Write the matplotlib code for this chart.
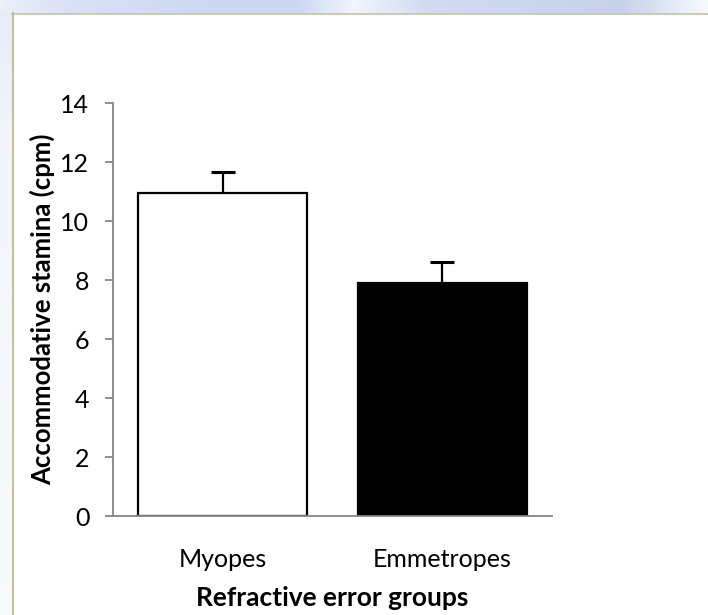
import matplotlib
matplotlib.use("Agg")
import matplotlib.pyplot as plt
import numpy as np
from matplotlib.patches import Rectangle

categories = ["Myopes", "Emmetropes"]
means = [10.95, 7.92]
errors = [0.72, 0.71]
fill_colors = ["white", "black"]
yticks = [0, 2, 4, 6, 8, 10, 12, 14]

plt.rcParams['font.family'] = ['Lato', 'DejaVu Sans']

W, H = 708, 615
fig = plt.figure(figsize=(W / 100, H / 100), dpi=100)

# background decoration (slide-like frame)
bg = fig.add_axes([0, 0, 1, 1], zorder=-10)
bg.set_axis_off()
grad = np.linspace(0, 1, 300)
stops = [0, 0.1, 0.3, 0.42, 0.5, 0.6, 0.75, 0.88, 0.96, 1]
top_r = np.interp(grad, stops, [0.92, 0.85, 0.80, 0.80, 0.95, 0.82, 0.80, 0.78, 0.90, 0.97])
top_g = np.interp(grad, stops, [0.94, 0.88, 0.85, 0.85, 0.96, 0.86, 0.84, 0.82, 0.93, 0.98])
top_b = np.interp(grad, stops, [0.98, 0.96, 0.95, 0.95, 0.99, 0.95, 0.94, 0.92, 0.97, 0.99])
img = np.stack([top_r, top_g, top_b], axis=-1)[None, :, :]
bg.imshow(img, extent=[0, W, 13, 0], aspect='auto')
left = np.linspace(0, 1, 200)
lr = np.interp(left, [0, 0.2, 1], [0.90, 0.95, 0.97])
lg = np.interp(left, [0, 0.2, 1], [0.93, 0.96, 0.98])
lb = np.interp(left, [0, 0.2, 1], [0.98, 0.98, 0.99])
limg = np.stack([lr, lg, lb], axis=-1)[:, None, :]
bg.imshow(limg, extent=[0, 12, H, 13], aspect='auto')
bg.add_patch(Rectangle((12, 13), W - 12, H - 13, facecolor='white', edgecolor='none'))
bg.plot([12, W], [13.5, 13.5], color='#c8bf9f', lw=1.2)
bg.plot([12.5, 12.5], [13, H], color='#c8bf9f', lw=1.5)
bg.set_xlim(0, W)
bg.set_ylim(H, 0)

ax = fig.add_axes([113 / W, 99 / H, 439 / W, 412.7 / H])
ax.set_facecolor('none')
x = np.arange(len(categories))
ax.bar(x, means, width=0.77, color=fill_colors, edgecolor='black', linewidth=1.6, zorder=2)
eb = ax.errorbar(x, means, yerr=[np.zeros(len(errors)), errors], fmt='none', ecolor='black',
                 elinewidth=1.6, capsize=8.5, capthick=2.2, zorder=3)
# show only the upper caps
eb.lines[1][0].set_visible(False)

ax.set_xlim(-0.5, 1.5)
ax.set_ylim(0, 14)
ax.set_yticks(yticks)
ax.set_yticklabels([str(v) for v in yticks])
ax.set_xticks(x)
ax.set_xticklabels(categories)

for s in ['top', 'right']:
    ax.spines[s].set_visible(False)
for s in ['left', 'bottom']:
    ax.spines[s].set_color('#868686')
    ax.spines[s].set_linewidth(1.3)

ax.tick_params(axis='y', direction='out', length=6, width=1.3, color='#868686',
               labelsize=18, pad=11, labelcolor='black')
ax.tick_params(axis='x', length=0, labelsize=18, pad=23, labelcolor='black')

ax.set_ylabel("Accommodative stamina (cpm)", fontsize=18.5, fontweight='bold')
ax.yaxis.set_label_coords(-0.132, 0.5)
ax.set_xlabel("Refractive error groups", fontsize=19, fontweight='bold')
ax.xaxis.set_label_coords(0.5, -0.17)

fig.savefig("out.png", dpi=100)
